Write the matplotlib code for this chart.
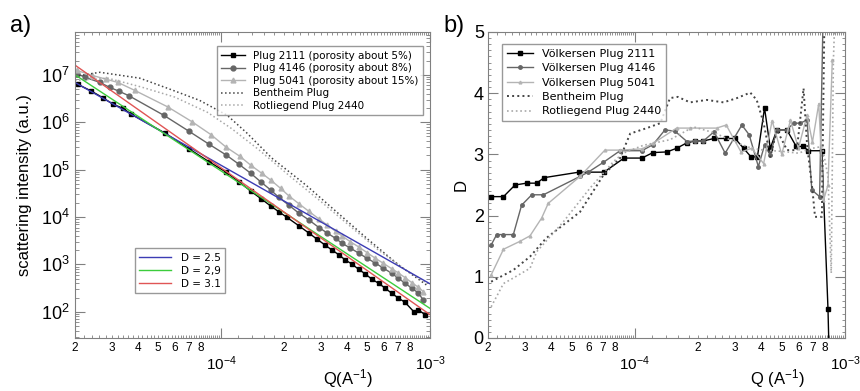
import matplotlib
matplotlib.use('Agg')
import matplotlib.pyplot as plt
import matplotlib.ticker as mticker
import numpy as np

plt.rcParams['font.family'] = ['Liberation Sans', 'DejaVu Sans']
plt.rcParams['mathtext.default'] = 'regular'

# ---- panel a: scattering curves ----
q_2111a = [2.06e-5, 2.38e-5, 2.71e-5, 3.04e-5, 3.40e-5, 3.70e-5, 5.42e-5, 7.06e-5, 8.79e-5, 1.055e-4,
           1.22e-4, 1.39e-4, 1.55e-4, 1.73e-4, 1.89e-4, 2.07e-4, 2.36e-4, 2.63e-4, 2.88e-4, 3.13e-4,
           3.40e-4, 3.66e-4, 3.94e-4, 4.23e-4, 4.55e-4, 4.90e-4, 5.26e-4, 5.67e-4, 6.10e-4, 6.56e-4,
           7.06e-4, 7.60e-4, 8.41e-4, 8.79e-4, 9.46e-4]
i_2111a = [6.3e6, 4.6e6, 3.3e6, 2.4e6, 1.95e6, 1.5e6, 5.8e5, 2.7e5, 1.45e5, 8.9e4,
           5.5e4, 3.5e4, 2.45e4, 1.7e4, 1.29e4, 9.8e3, 6.5e3, 4.6e3, 3.4e3, 2.6e3,
           2.0e3, 1.6e3, 1.23e3, 1.02e3, 790, 630, 490, 400, 316, 245,
           195, 158, 98, 110, 87]

q_4146a = [2.04e-5, 2.23e-5, 2.63e-5, 2.94e-5, 3.25e-5, 3.63e-5, 5.32e-5, 7.0e-5, 8.79e-5, 1.055e-4,
           1.22e-4, 1.39e-4, 1.55e-4, 1.73e-4, 1.89e-4, 2.11e-4, 2.36e-4, 2.63e-4, 2.94e-4, 3.22e-4,
           3.53e-4, 3.79e-4, 4.16e-4, 4.55e-4, 4.99e-4, 5.47e-4, 5.99e-4, 6.56e-4, 7.06e-4, 7.60e-4,
           8.17e-4, 8.79e-4, 9.3e-4]
i_4146a = [1.06e7, 8.9e6, 6.9e6, 5.4e6, 4.5e6, 3.6e6, 1.4e6, 6.5e5, 3.4e5, 2.05e5,
           1.29e5, 8.3e4, 5.5e4, 3.7e4, 2.6e4, 1.78e4, 1.2e4, 8.7e3, 6.0e3, 4.6e3,
           3.55e3, 2.8e3, 2.2e3, 1.74e3, 1.35e3, 1.07e3, 830, 650, 510, 400,
           316, 250, 175]

q_5041a = [2.04e-5, 2.40e-5, 2.81e-5, 3.21e-5, 3.86e-5, 5.56e-5, 7.27e-5, 8.93e-5, 1.055e-4, 1.23e-4,
           1.39e-4, 1.57e-4, 1.73e-4, 1.93e-4, 2.11e-4, 2.36e-4, 2.63e-4, 2.94e-4, 3.22e-4, 3.53e-4,
           3.79e-4, 4.16e-4, 4.55e-4, 4.99e-4, 5.47e-4, 5.99e-4, 6.56e-4, 7.06e-4, 7.60e-4, 8.17e-4,
           8.79e-4, 9.3e-4]
i_5041a = [1.24e7, 9.8e6, 8.1e6, 6.9e6, 4.7e6, 2.1e6, 1.02e6, 5.5e5, 3.0e5, 1.91e5,
           1.23e5, 8.3e4, 6.0e4, 4.0e4, 2.8e4, 1.9e4, 1.32e4, 9.1e3, 6.8e3, 5.0e3,
           4.0e3, 3.0e3, 2.35e3, 1.78e3, 1.35e3, 1.05e3, 810, 660, 525, 415,
           330, 265]

q_benth_a = [2.0e-5, 2.63e-5, 4.08e-5, 5.54e-5, 7.88e-5, 1.07e-4, 1.33e-4, 1.75e-4, 2.55e-4, 3.53e-4,
             5.08e-4, 7.06e-4, 9.6e-4]
i_benth_a = [9.3e6, 1.13e7, 8.5e6, 5.2e6, 2.9e6, 1.4e6, 5.9e5, 1.75e5, 4.7e4, 1.34e4,
             3.3e3, 980, 370]

q_rotl_a = [2.0e-5, 2.87e-5, 4.17e-5, 5.99e-5, 8.6e-5, 1.12e-4, 1.52e-4, 2.11e-4, 2.94e-4, 4.08e-4,
            5.67e-4, 7.88e-4, 9.6e-4]
i_rotl_a = [7.6e6, 8.5e6, 5.5e6, 3.4e6, 1.62e6, 7.4e5, 2.6e5, 7.6e4, 2.3e4, 6.8e3,
            2.0e3, 700, 410]

# power-law guide lines, end points
q_fit = [2e-5, 1e-3]
i_d25 = [6.9e6, 390]
i_d29 = [1.0e7, 118]
i_d31 = [1.6e7, 87]

# ---- panel b: local fractal dimension ----
q_2111b = [2.07e-5, 2.37e-5, 2.69e-5, 3.05e-5, 3.41e-5, 3.70e-5, 5.42e-5, 7.13e-5, 8.88e-5, 1.08e-4,
           1.22e-4, 1.42e-4, 1.58e-4, 1.77e-4, 1.94e-4, 2.12e-4, 2.38e-4, 2.72e-4, 3.0e-4, 3.29e-4,
           3.57e-4, 3.83e-4, 4.14e-4, 4.41e-4, 4.74e-4, 5.29e-4, 5.86e-4, 6.31e-4, 6.7e-4, 7.76e-4,
           8.3e-4, 8.5e-4]
d_2111 = [2.31, 2.31, 2.50, 2.53, 2.53, 2.62, 2.71, 2.71, 2.94, 2.94,
          3.03, 3.04, 3.10, 3.19, 3.22, 3.22, 3.26, 3.26, 3.26, 3.10,
          2.96, 2.96, 3.76, 3.10, 3.40, 3.40, 3.13, 3.13, 3.06, 3.06,
          0.47, -1.0]

q_4146b = [2.07e-5, 2.2e-5, 2.37e-5, 2.64e-5, 2.89e-5, 3.23e-5, 3.67e-5, 5.48e-5, 6.0e-5, 7.08e-5,
           8.5e-5, 1.08e-4, 1.22e-4, 1.39e-4, 1.55e-4, 1.77e-4, 1.94e-4, 2.12e-4, 2.38e-4, 2.69e-4,
           3.23e-4, 3.5e-4, 3.87e-4, 4.14e-4, 4.41e-4, 4.74e-4, 5.29e-4, 5.69e-4, 6.1e-4, 6.6e-4,
           6.95e-4, 7.57e-4, 7.9e-4]
d_4146 = [1.52, 1.69, 1.69, 1.69, 2.17, 2.34, 2.34, 2.64, 2.71, 2.87,
          3.06, 3.06, 3.16, 3.40, 3.38, 3.21, 3.22, 3.22, 3.37, 3.02,
          3.48, 3.32, 2.80, 3.15, 2.99, 3.40, 3.40, 3.51, 3.51, 3.56,
          2.42, 2.31, 5.6]

q_5041b = [2.07e-5, 2.37e-5, 2.84e-5, 3.17e-5, 3.6e-5, 3.87e-5, 5.48e-5, 7.2e-5, 8.5e-5, 1.08e-4,
           1.22e-4, 1.58e-4, 1.83e-4, 2.45e-4, 2.72e-4, 3.2e-4, 3.6e-4, 4.1e-4, 4.5e-4, 5.0e-4,
           5.5e-4, 6.0e-4, 6.6e-4, 7.0e-4, 7.5e-4, 7.9e-4, 8.3e-4, 8.7e-4]
d_5041 = [1.03, 1.45, 1.58, 1.67, 1.96, 2.20, 2.64, 3.07, 3.07, 3.09,
          3.18, 3.43, 3.43, 3.43, 3.48, 3.04, 3.10, 2.85, 3.55, 3.0,
          3.56, 3.1, 3.64, 3.2, 3.83, 2.25, 2.5, 4.54]

q_benth_b = [2.07e-5, 2.64e-5, 3.17e-5, 3.78e-5, 5.48e-5, 7.08e-5, 8.5e-5, 9.5e-5, 1.14e-4, 1.32e-4,
             1.47e-4, 1.6e-4, 1.83e-4, 2.2e-4, 2.64e-4, 3.06e-4, 3.54e-4, 3.8e-4, 4.1e-4, 4.41e-4,
             4.74e-4, 5.3e-4, 5.9e-4, 6.35e-4, 6.6e-4, 7.0e-4, 7.2e-4, 7.76e-4, 8.0e-4]
d_benth = [0.92, 1.11, 1.33, 1.63, 2.06, 2.66, 2.94, 3.34, 3.43, 3.51,
           3.92, 3.94, 3.85, 3.89, 3.85, 3.92, 4.01, 3.89, 3.51, 2.96,
           3.40, 3.07, 3.07, 4.08, 3.15, 2.42, 1.98, 1.98, 5.5]

q_rotl_b = [2.07e-5, 2.37e-5, 2.64e-5, 3.17e-5, 3.41e-5, 4.57e-5, 6.12e-5, 7.9e-5, 8.8e-5, 1.1e-4,
            1.47e-4, 1.9e-4, 2.4e-4, 3.0e-4, 3.6e-4, 4.1e-4, 5.0e-4, 6.0e-4, 7.0e-4, 7.8e-4,
            8.3e-4, 8.6e-4, 8.8e-4, 9.0e-4]
d_rotl = [0.51, 0.89, 0.98, 1.14, 1.41, 1.90, 2.45, 2.88, 3.02, 3.15,
          3.24, 3.45, 3.35, 3.2, 3.1, 3.07, 3.05, 3.02, 3.1, 3.13,
          2.64, 1.06, 4.5, 5.5]

c_dark = '#666666'
c_light = '#b4b4b4'
c_benth = '#444444'
c_rotl = '#a8a8a8'
c_frame = '#808080'


def minor_digit(x, pos):
    # only the digits 2..8 are written under the axis
    m = x / 10 ** np.floor(np.log10(x) + 1e-9)
    if abs(m - round(m)) < 0.02 and 2 <= round(m) <= 8:
        return str(int(round(m)))
    return ''


def style_x(ax):
    ax.set_xscale('log')
    ax.set_xlim(2e-5, 1e-3)
    ax.xaxis.set_major_locator(mticker.LogLocator(base=10))
    ax.xaxis.set_minor_locator(mticker.LogLocator(base=10, subs=np.arange(1.2, 10.0, 0.2)))
    ax.xaxis.set_minor_formatter(mticker.FuncFormatter(minor_digit))
    ax.tick_params(axis='x', which='major', pad=12, labelsize=11, length=7)
    ax.tick_params(axis='x', which='minor', pad=3, labelsize=8.5, length=2.5)
    ax.tick_params(which='both', direction='in', top=True, right=True, color=c_frame)
    for s in ax.spines.values():
        s.set_color(c_frame)


fig = plt.figure(figsize=(8.6, 3.91), dpi=100)
ax1 = fig.add_axes([75 / 860, 53 / 391, 355 / 860, 306 / 391])
ax2 = fig.add_axes([488 / 860, 53 / 391, 357 / 860, 306 / 391])

# panel a
h1, = ax1.plot(q_2111a, i_2111a, '-', color='black', lw=1, marker='s', ms=3.5,
               label='Plug 2111 (porosity about 5%)')
h2, = ax1.plot(q_4146a, i_4146a, '-', color=c_dark, lw=1, marker='o', ms=3.5,
               label='Plug 4146 (porosity about 8%)')
h3, = ax1.plot(q_5041a, i_5041a, '-', color=c_light, lw=1, marker='^', ms=3.5,
               label='Plug 5041 (porosity about 15%)')
h4, = ax1.plot(q_benth_a, i_benth_a, ':', color=c_benth, lw=1.1, label='Bentheim Plug')
h5, = ax1.plot(q_rotl_a, i_rotl_a, ':', color=c_rotl, lw=1.1, label='Rotliegend Plug 2440')
g1, = ax1.plot(q_fit, i_d25, '-', color='#3c3cb4', lw=1, label='D = 2.5')
g2, = ax1.plot(q_fit, i_d29, '-', color='#3ccc3c', lw=1, label='D = 2,9')
g3, = ax1.plot(q_fit, i_d31, '-', color='#e05555', lw=1, label='D = 3.1')

ax1.set_yscale('log')
ax1.set_ylim(28, 8e7)
ax1.yaxis.set_major_locator(mticker.LogLocator(base=10))
ax1.yaxis.set_minor_locator(mticker.LogLocator(base=10, subs=np.arange(2, 10)))
ax1.yaxis.set_minor_formatter(mticker.NullFormatter())
ax1.tick_params(axis='y', which='major', labelsize=13, length=7, pad=4)
ax1.tick_params(axis='y', which='minor', length=3)
style_x(ax1)
ax1.set_ylabel('scattering intensity (a.u.)', fontsize=12, labelpad=6)
ax1.set_xlabel('Q(A$^{-1}$)', fontsize=12)
ax1.xaxis.set_label_coords(0.77, -0.095)

leg1 = ax1.legend(handles=[h1, h2, h3, h4, h5], loc='upper right', bbox_to_anchor=(0.995, 0.97),
                  frameon=True, fancybox=False, edgecolor=c_frame,
                  handlelength=2.3, borderpad=0.4, labelspacing=0.25,
                  prop={'family': 'DejaVu Sans', 'size': 7.5})
ax1.add_artist(leg1)
leg2 = ax1.legend(handles=[g1, g2, g3], loc='lower left', bbox_to_anchor=(0.155, 0.13),
                  fancybox=False, edgecolor=c_frame, handlelength=3.0, borderpad=0.4,
                  labelspacing=0.3, handletextpad=1.0, prop={'family': 'DejaVu Sans', 'size': 7.5})

# panel b
b1, = ax2.plot(q_2111b, d_2111, '-', color='black', lw=1, marker='s', ms=2.5,
               label='Völkersen Plug 2111')
b2, = ax2.plot(q_4146b, d_4146, '-', color=c_dark, lw=1, marker='o', ms=2.5,
               label='Völkersen Plug 4146')
b3, = ax2.plot(q_5041b, d_5041, '-', color=c_light, lw=1, marker='^', ms=2,
               label='Völkersen Plug 5041')
b4, = ax2.plot(q_benth_b, d_benth, ':', color=c_benth, lw=1.4, label='Bentheim Plug')
b5, = ax2.plot(q_rotl_b, d_rotl, ':', color=c_rotl, lw=1.2, label='Rotliegend Plug 2440')

ax2.set_ylim(0, 5)
ax2.yaxis.set_major_locator(mticker.MultipleLocator(1))
ax2.yaxis.set_minor_locator(mticker.MultipleLocator(0.1))
ax2.tick_params(axis='y', which='major', labelsize=13, length=7, pad=3)
ax2.tick_params(axis='y', which='minor', length=2.5)
style_x(ax2)
ax2.set_ylabel('D', fontsize=12, labelpad=4)
ax2.set_xlabel('Q (A$^{-1}$)', fontsize=12)
ax2.xaxis.set_label_coords(0.81, -0.095)
ax2.legend(handles=[b1, b2, b3, b4, b5], loc='upper left', bbox_to_anchor=(0.025, 0.98),
           fancybox=False, edgecolor=c_frame, handlelength=2.3, borderpad=0.45,
           labelspacing=0.4, prop={'family': 'DejaVu Sans', 'size': 8})

fig.text(10 / 860, 1 - 32 / 391, 'a)', fontsize=17)
fig.text(443 / 860, 1 - 32 / 391, 'b)', fontsize=17)

fig.savefig('out.png', dpi=100)
